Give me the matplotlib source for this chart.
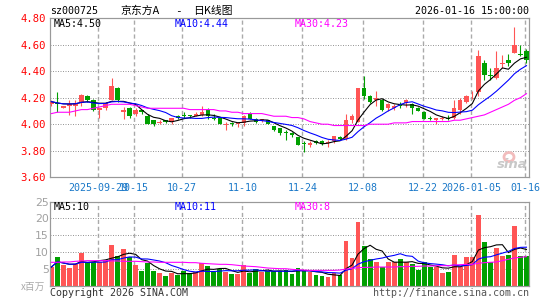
import numpy as np
import pandas as pd
import matplotlib
matplotlib.use('Agg')
import matplotlib.pyplot as plt
from matplotlib.patches import Ellipse

# daily candles, 2025-09-17 .. 2026-01-16 (80 trading days)
opens = [4.15, 4.16, 4.12, 4.14, 4.14, 4.16, 4.21, 4.18, 4.11, 4.12,
         4.18, 4.27, 4.09, 4.12, 4.08, 4.11, 4.06, 4.03, 4.01, 4.03,
         4.02, 4.06, 4.07, 4.07, 4.06, 4.07, 4.11, 4.05, 4.05, 3.995,
         4.01, 4.00, 4.01, 4.08, 4.04, 4.03, 4.03, 3.99, 3.97, 3.94,
         3.93, 3.90, 3.86, 3.84, 3.87, 3.87, 3.86, 3.87, 3.90, 3.89,
         4.03, 4.02, 4.27, 4.21, 4.18, 4.18, 4.12, 4.12, 4.15, 4.16,
         4.15, 4.12, 4.09, 4.05, 4.03, 4.04, 4.05, 4.05, 4.11, 4.17,
         4.225, 4.24, 4.46, 4.37, 4.35, 4.455, 4.48, 4.54, 4.53, 4.55]
closes = [4.17, 4.15, 4.14, 4.15, 4.16, 4.22, 4.18, 4.11, 4.12, 4.16,
          4.29, 4.18, 4.11, 4.06, 4.11, 4.09, 4.00, 4.00, 4.02, 4.02,
          4.05, 4.05, 4.065, 4.06, 4.08, 4.09, 4.06, 4.04, 4.00, 4.005,
          4.00, 4.01, 4.06, 4.04, 4.02, 4.035, 4.00, 3.96, 3.93, 3.93,
          3.92, 3.84, 3.85, 3.86, 3.86, 3.85, 3.865, 3.91, 3.89, 4.03,
          4.06, 4.27, 4.21, 4.17, 4.20, 4.11, 4.15, 4.14, 4.14, 4.18,
          4.12, 4.10, 4.04, 4.04, 4.05, 4.045, 4.04, 4.12, 4.18, 4.21,
          4.23, 4.51, 4.37, 4.36, 4.42, 4.46, 4.46, 4.60, 4.52, 4.48]
highs = [4.18, 4.24, 4.14, 4.18, 4.18, 4.23, 4.22, 4.19, 4.12, 4.17,
         4.35, 4.28, 4.13, 4.13, 4.12, 4.11, 4.08, 4.03, 4.03, 4.03,
         4.05, 4.07, 4.09, 4.07, 4.09, 4.14, 4.12, 4.08, 4.05, 4.02,
         4.02, 4.02, 4.07, 4.09, 4.05, 4.04, 4.03, 3.99, 3.97, 3.96,
         3.94, 3.90, 3.87, 3.87, 3.88, 3.88, 3.88, 3.91, 3.91, 4.08,
         4.08, 4.27, 4.36, 4.22, 4.25, 4.19, 4.16, 4.15, 4.17, 4.19,
         4.16, 4.13, 4.10, 4.06, 4.05, 4.06, 4.07, 4.18, 4.20, 4.22,
         4.25, 4.56, 4.48, 4.42, 4.55, 4.52, 4.53, 4.73, 4.60, 4.57]
lows = [4.14, 4.09, 4.12, 4.07, 4.06, 4.14, 4.17, 4.10, 4.05, 4.11,
        4.18, 4.17, 4.04, 4.05, 4.06, 4.08, 4.00, 3.99, 4.00, 4.01,
        4.00, 4.04, 4.05, 4.05, 4.06, 4.06, 4.04, 4.03, 4.00, 3.96,
        3.99, 3.98, 3.99, 4.04, 4.01, 4.02, 4.00, 3.95, 3.92, 3.88,
        3.90, 3.84, 3.79, 3.83, 3.85, 3.84, 3.83, 3.86, 3.88, 3.88,
        4.01, 4.02, 4.19, 4.16, 4.14, 4.10, 4.10, 4.11, 4.12, 4.13,
        4.08, 4.10, 4.04, 4.03, 4.00, 4.03, 4.03, 4.04, 4.08, 4.16,
        4.19, 4.21, 4.33, 4.33, 4.34, 4.42, 4.44, 4.54, 4.51, 4.46]
# volume, millions of shares
vols = [5.5, 8.6, 6.0, 5.2, 6.5, 9.6, 6.9, 7.1, 6.9, 7.6,
        12.1, 8.9, 10.8, 8.6, 6.0, 4.2, 6.7, 4.2, 3.7, 2.7,
        3.7, 3.2, 4.3, 3.7, 3.9, 6.6, 5.9, 3.9, 5.0, 4.0,
        3.3, 3.3, 6.0, 3.7, 5.0, 4.0, 4.3, 4.3, 4.2, 4.5,
        3.5, 5.3, 4.7, 3.9, 3.0, 2.7, 2.5, 3.7, 3.0, 13.1,
        8.1, 18.9, 11.9, 7.9, 7.1, 5.5, 7.1, 7.1, 7.9, 7.1,
        6.3, 4.5, 7.1, 5.5, 5.5, 3.7, 4.0, 9.2, 5.5, 8.4,
        8.6, 21.0, 12.8, 6.9, 11.1, 8.9, 9.2, 17.7, 8.9, 8.9]
# 30-day averages as drawn (need history before the window)
ma30_price = [4.08, 4.09, 4.09, 4.09, 4.10, 4.11, 4.11, 4.12, 4.13, 4.14,
              4.15, 4.15, 4.15, 4.15, 4.14, 4.13, 4.12, 4.12, 4.12, 4.12,
              4.12, 4.12, 4.12, 4.11, 4.11, 4.11, 4.11, 4.11, 4.10, 4.10,
              4.09, 4.09, 4.08, 4.08, 4.08, 4.08, 4.07, 4.06, 4.06, 4.06,
              4.05, 4.05, 4.04, 4.02, 4.01, 4.00, 4.00, 3.99, 3.99, 3.99,
              3.99, 3.99, 3.99, 4.00, 4.00, 4.00, 4.00, 4.01, 4.01, 4.01,
              4.02, 4.02, 4.02, 4.02, 4.02, 4.02, 4.02, 4.03, 4.03, 4.04,
              4.05, 4.06, 4.07, 4.09, 4.11, 4.13, 4.15, 4.18, 4.20, 4.23]
ma30_vol = [6.9, 6.9, 7.0, 7.0, 7.2, 7.3, 7.4, 7.4, 7.4, 7.4,
            7.3, 7.3, 7.2, 7.2, 7.2, 7.1, 7.0, 7.0, 6.9, 6.9,
            6.9, 6.9, 6.9, 6.8, 6.8, 6.6, 6.5, 6.4, 6.3, 6.3,
            6.2, 6.0, 5.8, 5.7, 5.6, 5.4, 5.2, 5.1, 5.0, 5.0,
            4.8, 4.7, 4.6, 4.5, 4.5, 4.5, 4.5, 4.5, 4.6, 4.9,
            5.1, 5.3, 5.4, 5.4, 5.5, 5.5, 5.5, 5.5, 5.6, 5.6,
            5.7, 5.7, 5.8, 5.8, 5.9, 5.9, 5.9, 6.1, 6.2, 6.3,
            6.3, 6.6, 6.8, 6.9, 7.0, 7.4, 7.8, 8.2, 8.4, 8.6]

tick_idx = [8, 14, 22, 32, 42, 52, 62, 70, 79]
tick_labels = ['2025-09-29', '10-15', '10-27', '11-10', '11-24', '12-08',
               '12-22', '2026-01-05', '01-16']
price_ticks = [3.60, 3.80, 4.00, 4.20, 4.40, 4.60, 4.80]
vol_ticks = [5, 10, 15, 20, 25]

RED = '#ff5555'
GREEN = '#00a000'
BLUE = '#0000ff'
MAG = '#ff00ff'
FRAME = '#999999'
MONO = 'DejaVu Sans Mono'
CJK = ['Noto Sans CJK SC', 'DejaVu Sans']
PX = 0.72  # one pixel in points

W, H = 545, 300
fig = plt.figure(figsize=(W / 100, H / 100), dpi=100)


def px_axes(l, t, r, b):
    return fig.add_axes([l / W, 1 - b / H, (r - l) / W, (b - t) / H])


def ptext(x, y, s, **kw):
    kw.setdefault('va', 'center')
    kw.setdefault('family', MONO)
    kw.setdefault('fontsize', 7.2)
    fig.text(x / W, 1 - y / H, s, **kw)


ax = px_axes(50, 18, 529, 177.3)
axv = px_axes(50, 201.5, 529, 285.5)

o = np.array(opens)
c = np.array(closes)
hi = np.array(highs)
lo = np.array(lows)
v = np.array(vols)
x = np.arange(len(o))
up = c >= o
cols = np.where(up, RED, GREEN)

ma5 = pd.Series(c).rolling(5, min_periods=1).mean().values
ma10 = pd.Series(c).rolling(10, min_periods=1).mean().values
vma5 = pd.Series(v).rolling(5, min_periods=1).mean().values
vma10 = pd.Series(v).rolling(10, min_periods=1).mean().values

grid_x = np.array(tick_idx) - 0.25
for a in (ax, axv):
    a.set_xlim(-0.23, 79.42)
    for gx in grid_x:
        a.axvline(gx, color='#aaaaaa', lw=1.0, ls=(0, (3, 2)), zorder=0)
    for s in a.spines.values():
        s.set_color(FRAME)
        s.set_linewidth(1.2 * PX)

# price panel
ax.set_ylim(3.60, 4.80)
for gy in price_ticks[1:-1]:
    ax.axhline(gy, color='#999999', lw=PX, ls=(0, (1, 1.5)), zorder=0)
ax.vlines(x, lo, hi, colors=cols, lw=PX * 1.1, zorder=2)
body_h = np.maximum(np.abs(c - o), 0.006)
ax.bar(x, body_h, bottom=np.minimum(o, c), width=0.72, color=cols,
       linewidth=0, zorder=3)
ax.plot(x, ma5, color='black', lw=PX * 1.1, zorder=4)
ax.plot(x, ma10, color=BLUE, lw=PX * 1.1, zorder=4)
ax.plot(x, ma30_price, color=MAG, lw=PX * 1.1, zorder=4)
ax.set_yticks(price_ticks)
ax.set_yticklabels([f'{t:.2f}' for t in price_ticks], color='#ff0000',
                   family=MONO, fontsize=7.6)
ax.set_xticks(grid_x)
ax.set_xticklabels(tick_labels, color='#1a78c8', family=MONO, fontsize=7.2)
ax.tick_params(length=0, pad=3)
ax.tick_params(axis='x', pad=4)

# volume panel
axv.set_ylim(0, 25)
for gy in vol_ticks[:-1]:
    axv.axhline(gy, color='#999999', lw=PX, ls=(0, (1, 1.5)), zorder=0)
axv.bar(x, v, width=0.8, color=cols, linewidth=0, zorder=2)
axv.plot(x, vma5, color='black', lw=PX * 1.1, zorder=4)
axv.plot(x, vma10, color=BLUE, lw=PX * 1.1, zorder=4)
axv.plot(x, ma30_vol, color=MAG, lw=PX * 1.1, zorder=4)
axv.set_yticks(vol_ticks)
axv.set_yticklabels([str(t) for t in vol_ticks], color='#a0a0a0',
                    family='DejaVu Sans', fontsize=7.8)
axv.set_xticks([])
axv.tick_params(length=0, pad=1)

# header
ptext(50, 11, 'sz000725')
ptext(120, 11, '京东方A', family=CJK, fontsize=7.8)
ptext(178, 11, '-', ha='center', fontsize=8)
ptext(193, 11, '日K线图', family=CJK, fontsize=7.8)
ptext(529, 11, '2026-01-16 15:00:00', ha='right')

# moving-average legends
ptext(54, 24, f'MA5:{ma5[-1]:.2f}', color='black')
ptext(175, 24, f'MA10:{ma10[-1]:.2f}', color=BLUE)
ptext(295, 24, f'MA30:{ma30_price[-1]:.2f}', color=MAG)
ptext(54, 206.5, f'MA5:{int(vma5[-1])}', color='black')
ptext(175, 206.5, f'MA10:{int(vma10[-1])}', color=BLUE)
ptext(295, 206.5, f'MA30:{int(ma30_vol[-1])}', color=MAG)

# footer
ptext(45, 286.5, 'x百万', ha='right', family=CJK, fontsize=7, color='#aaaaaa')
ptext(50, 292.5, 'Copyright 2026 SINA.COM', color='#333333')
ptext(529, 292.5, 'http://finance.sina.com.cn', ha='right', color='#555555')

# watermark
fig.add_artist(Ellipse((509 / W, 1 - 157 / H), 10 / W, 9 / H,
                       transform=fig.transFigure, fill=False,
                       edgecolor='#f2bcbc', lw=2))
ptext(528, 164, 'sina', ha='right', family='DejaVu Sans', fontsize=9.5,
      style='italic', weight='bold', color='#c8c8c8')

fig.savefig('out.png', dpi=100)
